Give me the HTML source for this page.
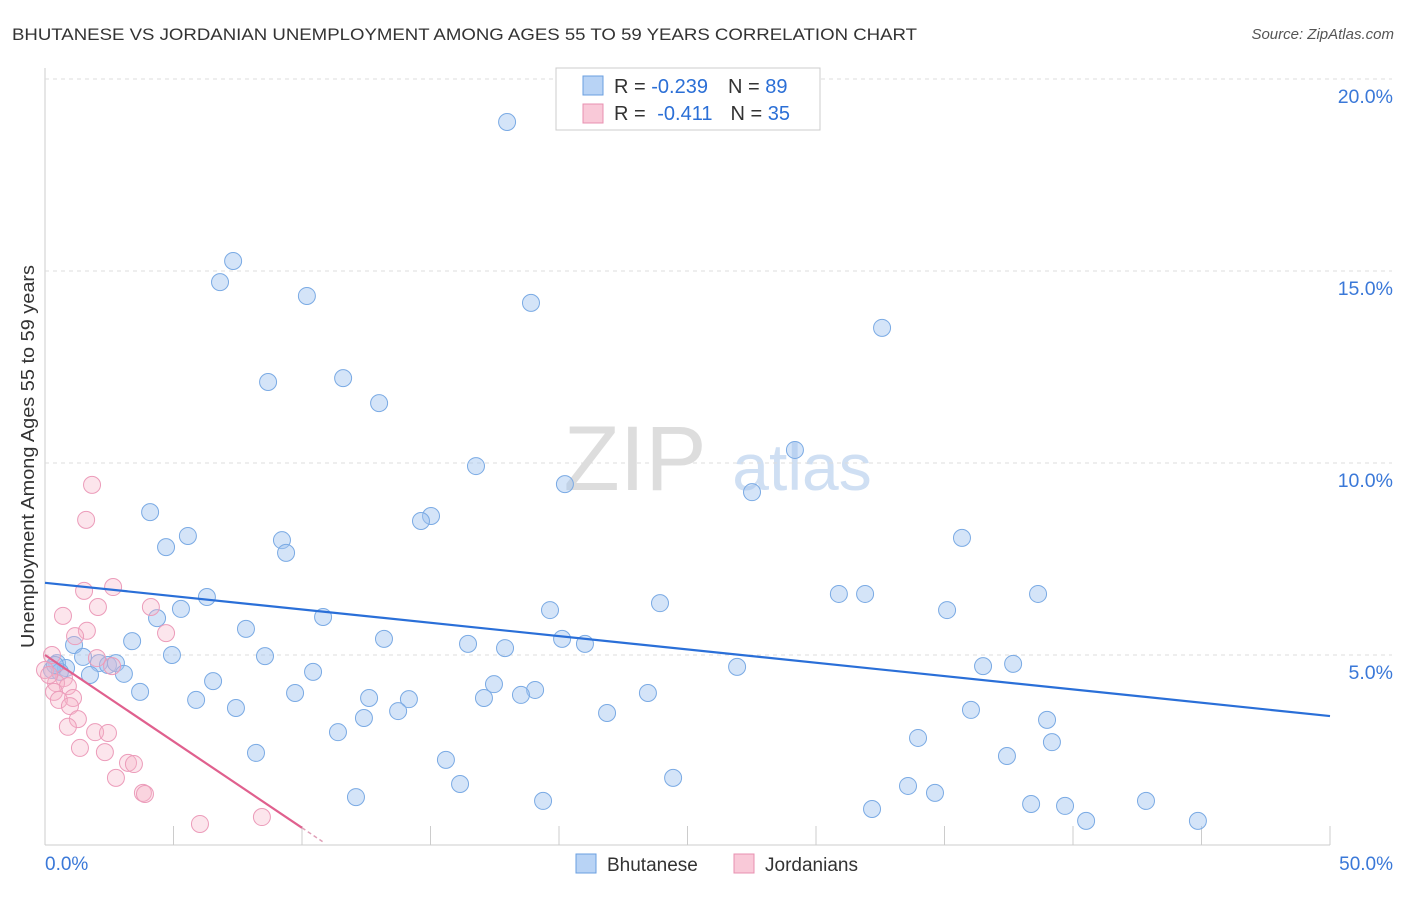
<!DOCTYPE html>
<html><head><meta charset="utf-8"><style>
body{margin:0;background:#fff;font-family:"Liberation Sans",sans-serif}
svg text{font-family:"Liberation Sans",sans-serif}
</style></head><body>
<svg id="chart" width="1406" height="892">
<text x="12" y="40" font-size="17" fill="#333" textLength="905" lengthAdjust="spacingAndGlyphs">BHUTANESE VS JORDANIAN UNEMPLOYMENT AMONG AGES 55 TO 59 YEARS CORRELATION CHART</text>
<text x="1394" y="39" font-size="15" fill="#555" font-style="italic" text-anchor="end">Source: ZipAtlas.com</text>
<g>
<text x="635" y="490" font-size="92" fill="#ddd" font-family="Liberation Serif,serif" text-anchor="middle">ZIP</text>
<text x="802" y="490" font-size="66" fill="#cfdff3" text-anchor="middle">atlas</text></g>
<text transform="translate(34,648) rotate(-90)" font-size="18" fill="#333" textLength="383" lengthAdjust="spacingAndGlyphs">Unemployment Among Ages 55 to 59 years</text>
<g id="grid"></g><g id="pts"></g><g id="lines"></g>
<g>
<rect x="556" y="68" width="264" height="62" fill="#fff" stroke="#ccc"/>
<rect x="583" y="76" width="20" height="19" fill="#b8d3f5" stroke="#6a9fe0"/>
<rect x="583" y="104" width="20" height="19" fill="#f9c9d8" stroke="#e890b0"/>
<text x="614" y="93" font-size="20" fill="#333">R = <tspan fill="#2b6fd6">-0.239</tspan><tspan dx="20">N = </tspan><tspan fill="#2b6fd6">89</tspan></text>
<text x="614" y="120" font-size="20" fill="#333">R = <tspan dx="6" fill="#2b6fd6">-0.411</tspan><tspan dx="18">N = </tspan><tspan fill="#2b6fd6">35</tspan></text>
</g>
<g>
<rect x="576" y="854" width="20" height="19" fill="#b8d3f5" stroke="#6a9fe0"/>
<text x="607" y="871" font-size="19" fill="#333">Bhutanese</text>
<rect x="734" y="854" width="20" height="19" fill="#f9c9d8" stroke="#e890b0"/>
<text x="765" y="871" font-size="19" fill="#333">Jordanians</text>
</g>
</svg>
<script>
const blueX=[17.98,7.32,6.81,10.19,18.91,32.57,8.68,11.6,13,29.18,16.77,20.23,27.51,4.09,15.02,14.63,5.56,4.71,9.22,9.38,35.68,6.3,5.29,4.36,10.82,19.65,23.93,30.89,31.91,35.1,38.64,7.82,3.39,13.19,20.12,21.01,16.46,17.9,4.94,8.56,1.13,1.48,2.1,2.45,2.76,0.47,0.82,0.27,3.07,1.75,10.43,26.93,36.5,37.67,6.54,3.7,5.88,9.73,17.47,19.07,18.52,17.08,12.61,14.16,23.46,7.43,13.74,21.87,36.03,12.41,38.99,11.4,33.97,39.18,8.21,37.43,15.6,24.44,16.15,33.58,34.63,12.1,19.38,38.37,39.69,42.84,32.18,40.51,44.86,0.58,0.39];
const blueY=[18.88,15.26,14.71,14.35,14.17,13.52,12.11,12.21,11.56,10.34,9.92,9.45,9.24,8.72,8.62,8.49,8.1,7.81,7.99,7.66,8.05,6.51,6.2,5.96,5.99,6.17,6.35,6.59,6.59,6.17,6.59,5.68,5.36,5.42,5.42,5.29,5.29,5.18,5.0,4.97,5.26,4.95,4.79,4.74,4.79,4.79,4.66,4.61,4.51,4.48,4.56,4.69,4.71,4.77,4.32,4.04,3.83,4.01,4.24,4.09,3.96,3.88,3.88,3.85,4.01,3.62,3.54,3.49,3.57,3.36,3.31,2.99,2.84,2.73,2.45,2.37,2.27,1.8,1.64,1.59,1.41,1.3,1.2,1.12,1.07,1.2,0.99,0.68,0.68,4.56,4.74];
const pinkX=[1.83,1.6,2.65,1.52,4.12,2.06,0.7,1.63,1.17,4.71,0.27,2.02,2.61,0,0.74,0.43,0.89,0.35,1.09,0.54,0.97,1.28,0.89,1.95,2.45,1.36,2.33,3.23,3.46,2.76,3.81,3.89,6.03,8.44,0.16];
const pinkY=[9.43,8.52,6.77,6.67,6.25,6.25,6.02,5.63,5.49,5.57,5.0,4.92,4.71,4.61,4.4,4.27,4.19,4.04,3.88,3.83,3.67,3.33,3.13,2.99,2.97,2.58,2.47,2.19,2.16,1.8,1.41,1.38,0.6,0.78,4.48];
const blueTrend=[6.88,3.41]; // y at x=0 and x=50
const pinkTrend=[5.0,0.5];   // y at x=0 and x=10
const yTicks=[5,10,15,20];
const yTickLabels=["5.0%","10.0%","15.0%","20.0%"];
const xTicks=[0,5,10,15,20,25,30,35,40,45,50];
const NS="http://www.w3.org/2000/svg";
const X=v=>45+v*25.7, Y=v=>847-v*38.4;
function mk(t,a,p){const e=document.createElementNS(NS,t);for(const k in a)e.setAttribute(k,a[k]);p.appendChild(e);return e;}
const grid=document.getElementById('grid');
mk('line',{x1:45,y1:68,x2:45,y2:845,stroke:'#ccc'},grid);
mk('line',{x1:45,y1:845,x2:1330,y2:845,stroke:'#ccc'},grid);
yTicks.forEach((t,i)=>{
 const l=mk('line',{x1:45,y1:Y(t),x2:1392,y2:Y(t),stroke:'#ddd','stroke-dasharray':'4,4'},grid);
 
 
 const tx=mk('text',{x:1393,y:Y(t)+24,'font-size':19.5,fill:'#3a78d8','text-anchor':'end'},grid);
 tx.textContent=yTickLabels[i];
 
 
});
xTicks.forEach(t=>{
 const l=mk('line',{x1:X(t),y1:826,x2:X(t),y2:845,stroke:'#ccc'},grid);
 
 
});
[[0,"0.0%","start",45],[50,"50.0%","end",1393]].forEach(d=>{
 const tx=mk('text',{x:d[3],y:870,'font-size':19,fill:'#3a78d8','text-anchor':d[2]},grid);
 tx.textContent=d[1];
 
 
});
const pts=document.getElementById('pts');
blueX.forEach((x,i)=>{
 const c=mk('circle',{cx:X(x),cy:Y(blueY[i]),r:8.5,fill:'rgba(160,196,240,0.45)',stroke:'#7aaae4','stroke-width':1},pts);
 
 
});
pinkX.forEach((x,i)=>{
 const c=mk('circle',{cx:X(x),cy:Y(pinkY[i]),r:8.5,fill:'rgba(245,180,200,0.35)',stroke:'#ec9cba','stroke-width':1},pts);
 
 
});
const lines=document.getElementById('lines');
const bl=mk('line',{x1:X(0),y1:Y(blueTrend[0]),x2:X(50),y2:Y(blueTrend[1]),stroke:'#2a6fd8','stroke-width':2.2},lines);


const pl=mk('line',{x1:X(0),y1:Y(pinkTrend[0]),x2:X(10),y2:Y(pinkTrend[1]),stroke:'#e0608e','stroke-width':2.2},lines);


const slope=(pinkTrend[1]-pinkTrend[0])/10;
const pd=mk('line',{x1:X(10),y1:Y(pinkTrend[1]),x2:X(10.8),y2:Y(pinkTrend[0]+slope*10.8),stroke:'#e0a0b8','stroke-width':1.5,'stroke-dasharray':'4,3'},lines);


</script>
</body></html>
